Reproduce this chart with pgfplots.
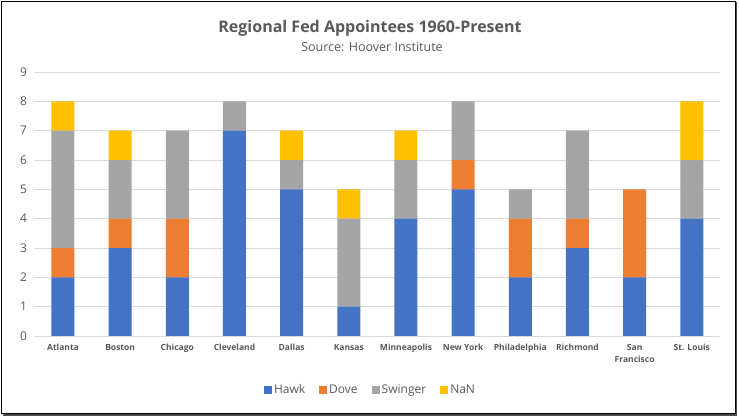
\documentclass[border=0pt]{standalone}
\usepackage{fontspec}
\setmainfont{Open Sans}
\usepackage{pgfplots}
\pgfplotsset{compat=1.18}
\definecolor{hawk}{HTML}{4472C4}
\definecolor{dove}{HTML}{ED7D31}
\definecolor{swinger}{HTML}{A5A5A5}
\definecolor{nan}{HTML}{FFC000}
\definecolor{txt}{HTML}{595959}
\definecolor{gridc}{HTML}{D9D9D9}
\pgfplotsset{sq legend/.style={legend image code/.code={\fill[##1] (0pt,-4pt) rectangle (8pt,4pt);}}}
\begin{document}
\begin{tikzpicture}[x=1pt,y=1pt]
\path[use as bounding box] (0,0) rectangle (739,417);
\fill[white] (0,0) rectangle (739,417);
\draw[black, line width=1pt] (1.5,3) rectangle (735.5,415.5);
\draw[black!70, line width=1.2pt] (2.5,2) -- (736.5,2) -- (736.5,414.5);
\node[font=\bfseries\fontsize{16}{19}\selectfont, text=txt] at (370,389) {Regional Fed Appointees 1960-Present};
\node[font=\fontsize{12.5}{15}\selectfont, text=txt] at (372,370) {Source: Hoover Institute};
\begin{axis}[
  at={(34.4pt,81pt)}, anchor=south west,
  scale only axis, width=686pt, height=264pt,
  ybar stacked, bar width=23pt,
  xmin=-0.5, xmax=11.5, ymin=0, ymax=9,
  xtick={0,...,11},
  xticklabels={Atlanta,Boston,Chicago,Cleveland,Dallas,Kansas,Minneapolis,New York,Philadelphia,Richmond,San\\Francisco,St. Louis},
  ytick={0,...,9},
  ymajorgrids, grid style={gridc, line width=0.8pt},
  axis line style={draw=none},
  major tick length=0pt,
  xticklabel style={font=\bfseries\fontsize{8.5}{12}\selectfont, text=txt, align=center, anchor=north},
  yticklabel style={font=\fontsize{12}{14}\selectfont, text=txt},
  /pgf/number format/assume math mode=true,
  xtick style={draw=none}, ytick style={draw=none},
  xticklabel shift=5pt, yticklabel shift=4pt,
  legend style={at={(0.49,-0.2045)}, anchor=center, draw=none, fill=none,
    legend columns=-1, font=\fontsize{12}{14}\selectfont, text=txt,
    /tikz/every even column/.append style={column sep=12pt}},
  legend cell align=left,
]
\addplot[fill=hawk, draw=none, sq legend] coordinates {(0,2)(1,3)(2,2)(3,7)(4,5)(5,1)(6,4)(7,5)(8,2)(9,3)(10,2)(11,4)};
\addplot[fill=dove, draw=none, sq legend] coordinates {(0,1)(1,1)(2,2)(3,0)(4,0)(5,0)(6,0)(7,1)(8,2)(9,1)(10,3)(11,0)};
\addplot[fill=swinger, draw=none, sq legend] coordinates {(0,4)(1,2)(2,3)(3,1)(4,1)(5,3)(6,2)(7,2)(8,1)(9,3)(10,0)(11,2)};
\addplot[fill=nan, draw=none, sq legend] coordinates {(0,1)(1,1)(2,0)(3,0)(4,1)(5,1)(6,1)(7,0)(8,0)(9,0)(10,0)(11,2)};
\legend{Hawk,Dove,Swinger,NaN}
\end{axis}
\end{tikzpicture}
\end{document}
